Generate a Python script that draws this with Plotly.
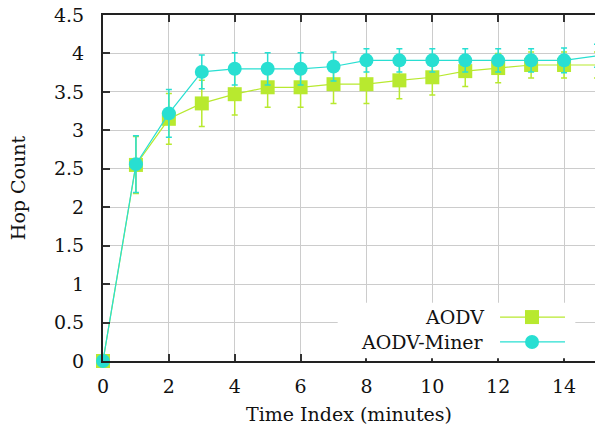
import plotly.graph_objects as go

time_index = [0, 1, 2, 3, 4, 5, 6, 7, 8, 9, 10, 11, 12, 13, 14, 15]
aodv = [0, 2.55, 3.15, 3.35, 3.47, 3.56, 3.56, 3.60, 3.60, 3.65, 3.69, 3.77, 3.81, 3.85, 3.85, 3.85]
aodv_err = [0, 0.37, 0.33, 0.30, 0.27, 0.26, 0.26, 0.25, 0.25, 0.24, 0.23, 0.20, 0.19, 0.17, 0.17, 0.17]
miner = [0, 2.56, 3.22, 3.76, 3.80, 3.80, 3.80, 3.83, 3.91, 3.91, 3.91, 3.91, 3.91, 3.91, 3.91, 3.97]
miner_err = [0, 0.37, 0.31, 0.22, 0.21, 0.21, 0.21, 0.19, 0.15, 0.15, 0.15, 0.15, 0.15, 0.15, 0.16, 0.15]
series_names = ["AODV", "AODV-Miner"]
x_ticks = [0, 2, 4, 6, 8, 10, 12, 14]
y_ticks = [0, 0.5, 1, 1.5, 2, 2.5, 3, 3.5, 4, 4.5]

GREEN = "#b8e92f"
CYAN = "#28dfd2"
FONT = "DejaVu Serif"
FS = 19

fig = go.Figure()
fig.add_trace(go.Scatter(
    x=time_index, y=aodv, name=series_names[0], mode="lines+markers",
    line=dict(color=GREEN, width=1.2),
    marker=dict(symbol="square", size=14, color=GREEN),
    error_y=dict(type="data", array=aodv_err, color=GREEN, thickness=1.5, width=3),
    cliponaxis=False, showlegend=False))
fig.add_trace(go.Scatter(
    x=time_index, y=miner, name=series_names[1], mode="lines+markers",
    line=dict(color=CYAN, width=1.2),
    marker=dict(symbol="circle", size=14, color=CYAN),
    error_y=dict(type="data", array=miner_err, color=CYAN, thickness=1.5, width=3),
    cliponaxis=False, showlegend=False))

# manual legend (text left of sample, as in the reference)
fig.add_shape(type="rect", xref="paper", yref="paper", x0=0.477, x1=0.96, y0=0.008, y1=0.168,
              fillcolor="white", line=dict(width=0), layer="above")
legend_rows = [(0.127, GREEN, "square"), (0.055, CYAN, "circle")]
for name, (yy, col, sym) in zip(series_names, legend_rows):
    fig.add_annotation(x=0.778, y=yy, xref="paper", yref="paper", text=name, showarrow=False,
                       xanchor="right", yanchor="middle", font=dict(family=FONT, size=FS, color="#111"))
    fig.add_shape(type="line", xref="paper", yref="paper", x0=0.807, x1=0.939, y0=yy, y1=yy,
                  line=dict(color=col, width=1.2), layer="above")
    fig.add_shape(type=("rect" if sym == "square" else "circle"), xref="paper", yref="paper",
                  xsizemode="pixel", ysizemode="pixel", xanchor=0.872, yanchor=yy,
                  x0=-7, x1=7, y0=-7, y1=7, fillcolor=col, line=dict(width=0), layer="above")

fig.update_layout(
    width=595, height=437, autosize=False,
    margin=dict(l=103, r=0, t=15, b=76),
    paper_bgcolor="white", plot_bgcolor="white",
    font=dict(family=FONT, size=FS, color="#111"),
    xaxis=dict(range=[0, 14.94], tickvals=x_ticks, ticks="inside", ticklen=7, tickwidth=1.5,
               tickcolor="#333", showline=True, linecolor="#222", linewidth=2, mirror="ticks",
               showgrid=True, gridcolor="#cccccc", gridwidth=1.2, zeroline=False,
               ticklabelstandoff=7, automargin=False,
               title=dict(text="Time Index (minutes)", standoff=12, font=dict(family=FONT, size=FS))),
    yaxis=dict(range=[0, 4.5], tickvals=y_ticks, ticktext=[f"{v:g}" for v in y_ticks],
               ticks="inside", ticklen=7, tickwidth=1.5,
               tickcolor="#333", showline=True, linecolor="#222", linewidth=2, mirror=False,
               showgrid=True, gridcolor="#cccccc", gridwidth=1.2, zeroline=False,
               ticklabelstandoff=13, automargin=False,
               title=dict(text="Hop Count", standoff=23, font=dict(family=FONT, size=FS))),
    yaxis2=dict(range=[0, 4.5], tickvals=y_ticks, overlaying="y", side="right", ticks="inside",
                ticklen=7, tickwidth=1.5, tickcolor="#333", showticklabels=False,
                showline=False, showgrid=False, zeroline=False, automargin=False),
)

fig.write_html("out.html", config={"displayModeBar": False},
               post_script="document.body.style.margin='0';document.body.style.overflow='hidden';")
